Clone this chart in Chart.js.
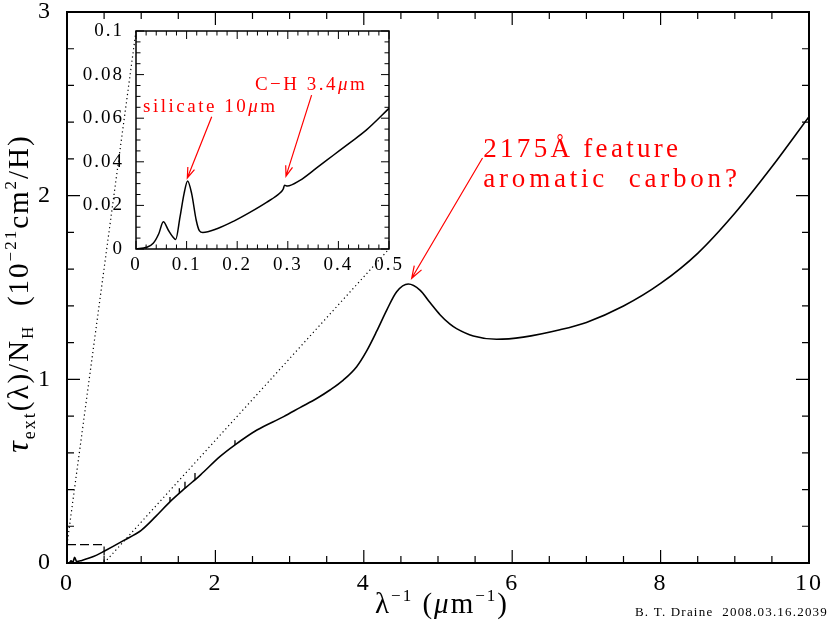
<!DOCTYPE html>
<html lang="en">
<head>
<meta charset="UTF-8">
<title>Interstellar extinction curve</title>
<script src="https://cdn.jsdelivr.net/npm/chart.js"></script>
<style>
  body { margin: 0; background: #fff; }
  #wrap { position: relative; width: 833px; height: 623px; }
  #mainChart { position: absolute; left: 0; top: 0; }
  #insetChart { position: absolute; left: 60px; top: 15px; }
</style>
</head>
<body>
<div id="wrap">
  <canvas id="mainChart" width="833" height="623"></canvas>
  <canvas id="insetChart" width="345" height="270"></canvas>
</div>
<script>
// tau_ext/N_H (1e-21 cm2/H) against 1/lambda (um^-1)
const mainWave = [0, 0.035, 0.0545, 0.0795, 0.1025, 0.13, 0.2, 0.3, 0.4, 0.5,
  0.76, 1.0, 1.2, 1.39, 1.6, 1.8, 2.06, 2.26, 2.56, 2.92, 3.14, 3.37, 3.544,
  3.724, 3.904, 4.039, 4.174, 4.309, 4.443, 4.6, 4.757, 4.892, 5.027, 5.162,
  5.25, 5.476, 5.79, 6.15, 6.644, 7.0, 7.5, 8.0, 8.5, 9.0, 9.5, 10];
const mainTau = [0, 0.0025, 0.0124, 0.0043, 0.0311, 0.0077, 0.014, 0.027, 0.043, 0.064,
  0.122, 0.178, 0.255, 0.334, 0.41, 0.48, 0.579, 0.642, 0.724, 0.797, 0.846, 0.897, 0.942,
  0.996, 1.069, 1.155, 1.262, 1.377, 1.477, 1.519, 1.486, 1.418, 1.352, 1.3,
  1.276, 1.236, 1.218, 1.23, 1.27, 1.31, 1.399, 1.522, 1.686, 1.904, 2.157, 2.43];

// small narrow features sitting on the main curve
const spikeWave = [1.388, 1.514, 1.59, 1.725, 2.264];
const spikeBase = [0.334, 0.379, 0.407, 0.454, 0.642];
const spikeTop = [0.36, 0.407, 0.443, 0.49, 0.668];

// infrared part shown in the inset
const insetWave = [0, 0.021, 0.034, 0.045, 0.054, 0.064, 0.073, 0.0785, 0.087, 0.095,
  0.102, 0.110, 0.119, 0.1255, 0.132, 0.16, 0.1925, 0.225, 0.258, 0.2845, 0.291,
  0.2935, 0.299, 0.324, 0.357, 0.39, 0.4225, 0.455, 0.5];
const insetTau = [0, 0.0008, 0.0026, 0.007, 0.0125, 0.0086, 0.0055, 0.0044, 0.0147, 0.0254,
  0.0312, 0.0254, 0.0132, 0.0083, 0.0076, 0.0093, 0.0127, 0.0168, 0.0214, 0.0257, 0.0275,
  0.0293, 0.0289, 0.0315, 0.0372, 0.043, 0.0487, 0.0545, 0.0645];

// dashed outline of the inset range inside the main plot
const boxWave = [0, 0.5, 0.5];
const boxTau = [0.1, 0.1, 0];

const mainXLabels = ['0', '2', '4', '6', '8', '10'];
const mainYLabels = ['0', '1', '2', '3'];
const insetXLabels = ['0', '0.1', '0.2', '0.3', '0.4', '0.5'];
const insetYLabels = ['0', '0.02', '0.04', '0.06', '0.08', '0.1'];

const FONT = "'Liberation Serif', 'Times New Roman', serif";
const RED = '#ff0000';

function toPoints(xs, ys) {
  return xs.map((x, i) => ({x: x, y: ys[i]}));
}

function spikePoints() {
  const pts = [];
  spikeWave.forEach((w, i) => {
    pts.push({x: w, y: spikeBase[i]}, {x: w, y: spikeTop[i]}, {x: w, y: null});
  });
  return pts;
}

// text with sub/superscripts: parts are [text, size, rise, italic, extraGapBefore]
function richText(ctx, parts, x, y, align, spacing) {
  ctx.save();
  ctx.letterSpacing = spacing + 'px';
  const fontOf = p => (p[3] ? 'italic ' : '') + p[1] + 'px ' + FONT;
  let w = 0;
  parts.forEach(p => { ctx.font = fontOf(p); w += ctx.measureText(p[0]).width + (p[4] || 0); });
  let cx = align === 'center' ? x - w / 2 : (align === 'right' ? x - w : x);
  ctx.textAlign = 'left';
  ctx.textBaseline = 'alphabetic';
  parts.forEach(p => {
    ctx.font = fontOf(p);
    cx += p[4] || 0;
    ctx.fillText(p[0], cx, y + (p[2] || 0));
    cx += ctx.measureText(p[0]).width;
  });
  ctx.restore();
}

function arrow(ctx, x1, y1, x2, y2, head) {
  const ang = Math.atan2(y2 - y1, x2 - x1);
  ctx.beginPath();
  ctx.moveTo(x1, y1);
  ctx.lineTo(x2, y2);
  ctx.moveTo(x2 - head * Math.cos(ang - 0.33), y2 - head * Math.sin(ang - 0.33));
  ctx.lineTo(x2, y2);
  ctx.lineTo(x2 - head * Math.cos(ang + 0.33), y2 - head * Math.sin(ang + 0.33));
  ctx.stroke();
}

// inward ticks on all four sides plus the frame
function frameTicks(chart, t) {
  const ctx = chart.ctx, a = chart.chartArea, x = chart.scales.x, y = chart.scales.y;
  ctx.save();
  ctx.strokeStyle = '#000';
  ctx.lineWidth = t.tickWidth;
  ctx.beginPath();
  const nx = Math.round((x.max - x.min) / t.xMinor);
  for (let i = 0; i <= nx; i++) {
    const v = x.min + i * t.xMinor;
    const q = v / t.xMajor;
    const len = Math.abs(q - Math.round(q)) < 1e-6 ? t.major : t.minor;
    const px = x.getPixelForValue(v);
    ctx.moveTo(px, a.bottom); ctx.lineTo(px, a.bottom - len);
    ctx.moveTo(px, a.top); ctx.lineTo(px, a.top + len);
  }
  const ny = Math.round((y.max - y.min) / t.yMinor);
  for (let i = 0; i <= ny; i++) {
    const v = y.min + i * t.yMinor;
    const q = v / t.yMajor;
    const len = Math.abs(q - Math.round(q)) < 1e-6 ? t.major : t.minor;
    const py = y.getPixelForValue(v);
    ctx.moveTo(a.left, py); ctx.lineTo(a.left + len, py);
    ctx.moveTo(a.right, py); ctx.lineTo(a.right - len, py);
  }
  ctx.stroke();
  ctx.lineWidth = t.frameWidth;
  ctx.strokeRect(a.left, a.top, a.right - a.left, a.bottom - a.top);
  ctx.restore();
}

function axisOptions(min, max, step, labels, size, padding, fit) {
  return {
    type: 'linear', min: min, max: max,
    afterFit: s => {
      fit(s);
      s.paddingTop = 0; s.paddingBottom = 0;
      s.paddingLeft = 0; s.paddingRight = 0;
    },
    grid: {display: false, drawTicks: false},
    border: {display: false},
    ticks: {
      stepSize: step, padding: padding, autoSkip: false, maxRotation: 0,
      color: '#000', font: {family: FONT, size: size},
      callback: (v, i) => labels[i]
    }
  };
}

// ---------- inset ----------
const insetChart = new Chart(document.getElementById('insetChart'), {
  type: 'scatter',
  data: {
    datasets: [{
      data: toPoints(insetWave, insetTau),
      showLine: true, borderColor: '#000', borderWidth: 1.5,
      pointRadius: 0, cubicInterpolationMode: 'monotone'
    }]
  },
  options: {
    responsive: false, animation: false, events: [],
    layout: {padding: {top: 16, right: 16, left: 0, bottom: 0}},
    plugins: {legend: {display: false}, tooltip: {enabled: false}},
    scales: {
      x: axisOptions(0, 0.5, 0.1, insetXLabels, 19, 5, s => { s.height = 36; }),
      y: axisOptions(0, 0.1, 0.02, insetYLabels, 19, 12, s => { s.width = 76; })
    }
  },
  plugins: [{
    id: 'insetDecor',
    beforeDraw(chart) {
      const a = chart.chartArea;
      chart.ctx.save();
      chart.ctx.fillStyle = '#fff';
      chart.ctx.fillRect(a.left, a.top, a.right - a.left, a.bottom - a.top);
      chart.ctx.restore();
      chart.ctx.letterSpacing = '2px';
    },
    afterDraw(chart) {
      const ctx = chart.ctx, x = chart.scales.x, y = chart.scales.y;
      frameTicks(chart, {xMinor: 0.02, xMajor: 0.1, yMinor: 0.005, yMajor: 0.02,
        major: 8, minor: 4.5, tickWidth: 1, frameWidth: 1.5});
      ctx.save();
      ctx.fillStyle = RED;
      ctx.strokeStyle = RED;
      ctx.lineWidth = 1.2;
      richText(ctx, [['silicate 10', 19], ['μ', 19, 0, true], ['m', 19]],
        x.getPixelForValue(0.014), y.getPixelForValue(0.063), 'left', 2.5);
      richText(ctx, [['C−H 3.4', 19], ['μ', 19, 0, true], ['m', 19]],
        x.getPixelForValue(0.235), y.getPixelForValue(0.0728), 'left', 2.5);
      arrow(ctx, x.getPixelForValue(0.1496), y.getPixelForValue(0.0607),
        x.getPixelForValue(0.1014), y.getPixelForValue(0.0326), 11);
      arrow(ctx, x.getPixelForValue(0.347), y.getPixelForValue(0.0706),
        x.getPixelForValue(0.2964), y.getPixelForValue(0.0334), 11);
      ctx.restore();
    }
  }]
});

// ---------- main plot ----------
const insetCanvas = document.getElementById('insetChart');

new Chart(document.getElementById('mainChart'), {
  type: 'scatter',
  data: {
    datasets: [
      {
        data: toPoints(mainWave, mainTau),
        showLine: true, borderColor: '#000', borderWidth: 1.6,
        pointRadius: 0, cubicInterpolationMode: 'monotone'
      },
      {
        data: spikePoints(),
        showLine: true, spanGaps: false, borderColor: '#000', borderWidth: 1.3,
        pointRadius: 0
      },
      {
        data: toPoints(boxWave, boxTau),
        showLine: true, borderColor: '#000', borderWidth: 1.2,
        borderDash: [9, 4], pointRadius: 0
      }
    ]
  },
  options: {
    responsive: false, animation: false, events: [],
    layout: {padding: {top: 12, right: 24, left: 0, bottom: 0}},
    plugins: {legend: {display: false}, tooltip: {enabled: false}},
    scales: {
      x: axisOptions(0, 10, 2, mainXLabels, 24, 6, s => { s.height = 60; }),
      y: axisOptions(0, 3, 1, mainYLabels, 24, 15, s => { s.width = 67; })
    }
  },
  plugins: [{
    id: 'mainDecor',
    beforeDraw(chart) {
      chart.ctx.letterSpacing = '2px';
    },
    afterDraw(chart) {
      const ctx = chart.ctx, x = chart.scales.x, y = chart.scales.y;
      frameTicks(chart, {xMinor: 0.5, xMajor: 2, yMinor: 0.2, yMajor: 1,
        major: 13, minor: 7, tickWidth: 1.2, frameWidth: 2});

      // dotted guides from the zoom box to the inset frame
      const ia = insetChart.chartArea;
      const ox = insetCanvas.offsetLeft, oy = insetCanvas.offsetTop;
      ctx.save();
      ctx.strokeStyle = '#000';
      ctx.lineWidth = 1.2;
      ctx.setLineDash([1.2, 3]);
      ctx.beginPath();
      ctx.moveTo(x.getPixelForValue(0), y.getPixelForValue(0.1));
      ctx.lineTo(ox + ia.left, oy + ia.top);
      ctx.moveTo(x.getPixelForValue(0.5), y.getPixelForValue(0));
      ctx.lineTo(ox + ia.right, oy + ia.bottom);
      ctx.stroke();
      ctx.restore();

      // axis titles
      ctx.save();
      ctx.fillStyle = '#000';
      richText(ctx, [['λ', 29], ['−1', 17, -12], [' (', 29], ['μ', 29, 0, true], ['m', 29],
        ['−1', 17, -12], [')', 29]], (chart.chartArea.left + chart.chartArea.right) / 2 + 4, 613, 'center', 2);
      ctx.translate(28, (chart.chartArea.top + chart.chartArea.bottom) / 2 + 6);
      ctx.rotate(-Math.PI / 2);
      richText(ctx, [['τ', 32, 0, true], ['ext', 18, 7], ['(λ)/N', 29], ['H', 17, 5],
        ['  (10', 29], ['−21', 17, -12], ['cm', 29], ['2', 17, -12], ['/H)', 29]],
        0, 0, 'center', 2);
      ctx.restore();

      // feature label
      ctx.save();
      ctx.fillStyle = RED;
      ctx.strokeStyle = RED;
      ctx.lineWidth = 1.2;
      richText(ctx, [['2175Å feature', 27]], x.getPixelForValue(5.61), y.getPixelForValue(2.21), 'left', 3.3);
      richText(ctx, [['aromatic', 27], [' carbon?', 27, 0, false, 10]],
        x.getPixelForValue(5.61), y.getPixelForValue(2.045), 'left', 3.8);
      arrow(ctx, x.getPixelForValue(5.6), y.getPixelForValue(2.205),
        x.getPixelForValue(4.645), y.getPixelForValue(1.55), 13);
      ctx.restore();

      // credit line
      ctx.save();
      ctx.fillStyle = '#000';
      richText(ctx, [['B. T. Draine  2008.03.16.2039', 13]], 828, 616, 'right', 1.2);
      ctx.restore();
    }
  }]
});
</script>
</body>
</html>
